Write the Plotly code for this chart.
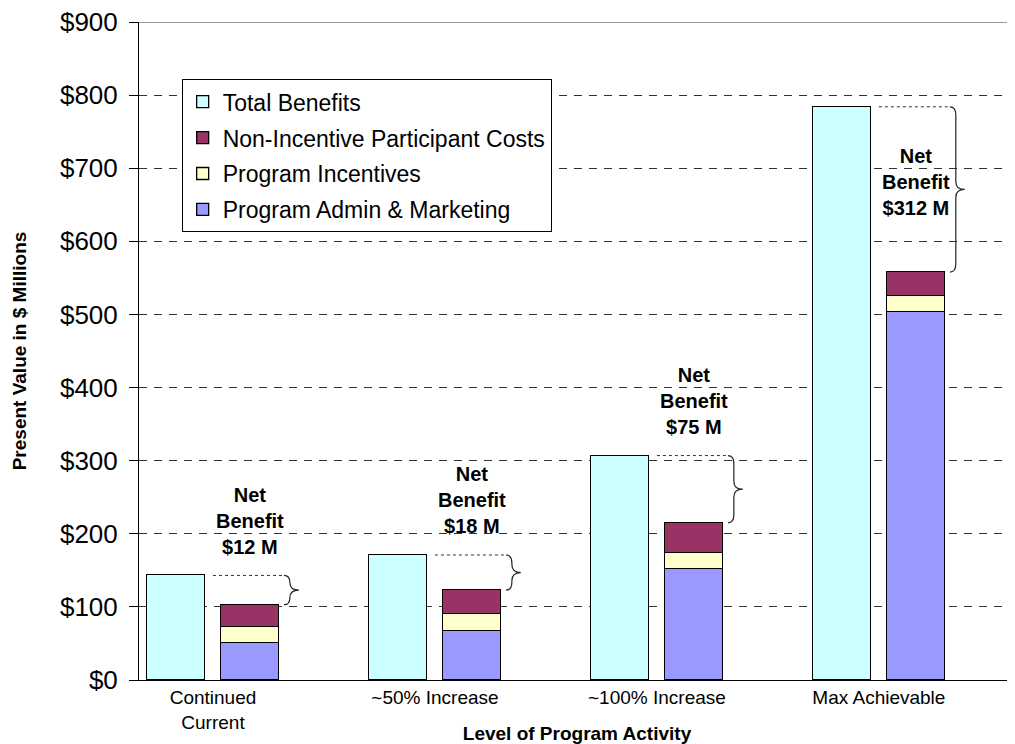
import plotly.graph_objects as go

# ---- data ----
categories = ["Continued<br>Current", "~50% Increase", "~100% Increase", "Max Achievable"]
total_benefits = [143, 171, 307, 784]
admin_marketing = [51, 67, 152, 503]
program_incentives = [22, 23, 22, 22]
non_incentive_costs = [30, 33, 41, 33]
net_benefit_labels = ["$12 M", "$18 M", "$75 M", "$312 M"]

FONT = "Liberation Sans, Arial, sans-serif"

# each category uses 3 slots: total bar, stacked bar, blank gap
n = len(categories)
x_total = [3 * i for i in range(n)]
x_stack = [3 * i + 1 for i in range(n)]
x_label = [3 * i + 0.5 for i in range(n)]
bar_w = 0.78
line_style = dict(color="black", width=1.3)

fig = go.Figure()
fig.add_trace(go.Bar(x=x_total, y=total_benefits, name="Total Benefits", width=bar_w,
                     marker=dict(color="#CCFFFF", line=line_style),
                     legendgroup="a", legendrank=1))
fig.add_trace(go.Bar(x=x_stack, y=admin_marketing, name="Program Admin & Marketing", width=bar_w,
                     marker=dict(color="#9999FF", line=line_style),
                     legendgroup="d", legendrank=4))
fig.add_trace(go.Bar(x=x_stack, y=program_incentives, name="Program Incentives", width=bar_w,
                     marker=dict(color="#FFFFCC", line=line_style),
                     legendgroup="c", legendrank=3))
fig.add_trace(go.Bar(x=x_stack, y=non_incentive_costs, name="Non-Incentive Participant Costs", width=bar_w,
                     marker=dict(color="#993366", line=line_style),
                     legendgroup="b", legendrank=2))

shapes = []
annotations = []
for i in range(n):
    top = total_benefits[i]
    bot = admin_marketing[i] + program_incentives[i] + non_incentive_costs[i]
    xs = x_total[i] + 0.5
    x0 = x_total[i] + 1.46
    x1 = x0 + 0.08
    x2 = x0 + 0.2
    mid = (top + bot) / 2
    r = min(11, (top - bot) / 4)
    # dotted leader from total bar top to brace
    shapes.append(dict(type="line", xref="x", yref="y", x0=xs, x1=x0, y0=top, y1=top,
                       line=dict(color="#333333", width=1, dash="dot")))
    # curly brace
    path = (f"M {x0},{top} Q {x1},{top} {x1},{top - r} L {x1},{mid + r} "
            f"Q {x1},{mid} {x2},{mid} Q {x1},{mid} {x1},{mid - r} "
            f"L {x1},{bot + r} Q {x1},{bot} {x0},{bot}")
    shapes.append(dict(type="path", xref="x", yref="y", path=path,
                       line=dict(color="#222222", width=1.2)))
    if top - bot > 150:
        ylab = mid + 10
    else:
        ylab = top + 75
    annotations.append(dict(x=x_stack[i], y=ylab, xref="x", yref="y",
                            text="<b>Net<br>Benefit<br>" + net_benefit_labels[i] + "</b>",
                            showarrow=False, font=dict(family=FONT, size=20, color="black"),
                            xanchor="center", yanchor="middle", align="center"))

# top border line of plot area
shapes.append(dict(type="line", xref="paper", yref="y", x0=0, x1=1, y0=900, y1=900,
                   line=dict(color="#999999", width=2)))

fig.update_layout(
    width=1007, height=736,
    margin=dict(l=131, r=0, t=14, b=64, pad=0),
    paper_bgcolor="white", plot_bgcolor="white",
    font=dict(family=FONT, color="black"),
    barmode="stack",
    bargap=0,
    shapes=shapes,
    annotations=annotations,
    legend=dict(x=0.0487, y=0.913, xanchor="left", yanchor="top",
                bgcolor="white", bordercolor="black", borderwidth=1,
                font=dict(family=FONT, size=23, color="black"),
                traceorder="grouped", tracegroupgap=3),
    xaxis=dict(range=[-0.5, 11.34], tickvals=x_label, ticktext=categories,
               tickfont=dict(family=FONT, size=19, color="black"),
               showline=True, linecolor="black", linewidth=1, showgrid=False,
               zeroline=False, ticks="", automargin=False,
               title=dict(text="<b>Level of Program Activity</b>", standoff=10,
                          font=dict(family=FONT, size=19, color="black"))),
    yaxis=dict(range=[0, 900], dtick=100, tickprefix="$",
               tickfont=dict(family=FONT, size=26, color="black"),
               showline=True, linecolor="black", linewidth=1,
               ticks="outside", ticklen=9, tickcolor="black", tickwidth=1,
               ticklabelstandoff=6, ticklabeloverflow="allow",
               showgrid=True, gridcolor="#333333", gridwidth=1, griddash="8px,7px",
               zeroline=False, automargin=False,
               title=dict(text="<b>Present Value in $ Millions</b>", standoff=28,
                          font=dict(family=FONT, size=19, color="black"))),
)

fig.write_html("out.html")
